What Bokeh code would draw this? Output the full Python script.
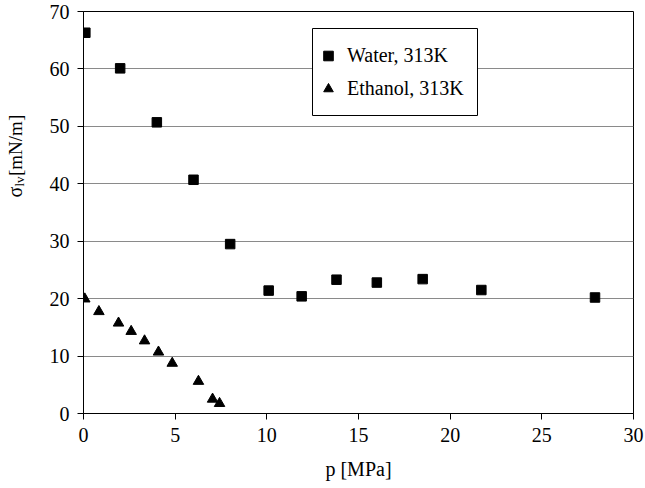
import math

from bokeh.plotting import figure
from bokeh.layouts import row
from bokeh.models import Legend, LegendItem, Label, BoxAnnotation
from bokeh.embed import file_html
from bokeh.resources import INLINE

# Surface tension vs pressure
water_p = [0.1, 2.0, 4.0, 6.0, 8.0, 10.1, 11.9, 13.8, 16.0, 18.5, 21.7, 27.9]
water_sigma = [66.3, 60.1, 50.7, 40.7, 29.5, 21.4, 20.4, 23.3, 22.8, 23.4, 21.5, 20.2]

ethanol_p = [0.07, 0.84, 1.91, 2.6, 3.33, 4.09, 4.84, 6.27, 7.04, 7.42]
ethanol_sigma = [19.95, 17.75, 15.75, 14.3, 12.65, 10.7, 8.75, 5.6, 2.5, 1.75]

x_ticks = [0, 5, 10, 15, 20, 25, 30]
y_ticks = [0, 10, 20, 30, 40, 50, 60, 70]

FONT = "Liberation Serif"
TITLE_W = 30          # width of the strip holding the vertical axis title
HEIGHT = 488

p = figure(
    width=645 - TITLE_W, height=HEIGHT,
    x_range=(0, 30), y_range=(0, 70),
    min_border_left=83 - TITLE_W, min_border_right=12,
    min_border_top=11, min_border_bottom=75,
    output_backend="svg", toolbar_location=None,
)
p.background_fill_color = "white"
p.border_fill_color = "white"
p.outline_line_color = "black"
p.outline_line_width = 1

# horizontal grid lines only
p.xgrid.visible = False
p.ygrid.grid_line_color = "#8a8a8a"
p.ygrid.grid_line_width = 1

for ax in (p.xaxis[0], p.yaxis[0]):
    ax.axis_line_color = "black"
    ax.axis_line_width = 1
    ax.major_tick_line_color = "black"
    ax.major_tick_in = 0
    ax.major_tick_out = 6
    ax.minor_tick_line_color = None
    ax.major_label_text_font = FONT
    ax.major_label_text_font_size = "20px"
    ax.major_label_text_color = "black"
    ax.major_label_standoff = 8

p.xaxis.ticker = x_ticks
p.yaxis.ticker = y_ticks

p.xaxis.axis_label = "p [MPa]"
p.xaxis.axis_label_text_font = FONT
p.xaxis.axis_label_text_font_size = "20px"
p.xaxis.axis_label_text_font_style = "normal"
p.xaxis.axis_label_text_color = "black"
p.xaxis.axis_label_standoff = 13

r_water = p.scatter(water_p, water_sigma, marker="square", size=9.5,
                    fill_color="black", line_color="black")
r_eth = p.scatter(ethanol_p, ethanol_sigma, marker="triangle", size=10.5,
                  fill_color="black", line_color="black")

# legend frame (screen units, measured from the plot frame's bottom-left)
p.add_layout(BoxAnnotation(
    left=229, right=394, bottom=298, top=385,
    left_units="screen", right_units="screen",
    bottom_units="screen", top_units="screen",
    fill_color="white", fill_alpha=1,
    line_color="black", line_width=1, line_alpha=1,
))

legend = Legend(
    items=[
        LegendItem(label="Water, 313K", renderers=[r_water]),
        LegendItem(label="Ethanol, 313K", renderers=[r_eth]),
    ],
    location=(233, 308),
    padding=0, margin=0, spacing=0,
    glyph_width=24, glyph_height=33, label_height=33,
    label_standoff=7,
    label_text_font=FONT,
    label_text_font_size="20px",
    label_text_color="black",
    border_line_color=None,
    background_fill_alpha=0,
)
p.add_layout(legend)

# narrow strip on the left carrying the rotated title  σ_lv [mN/m]
t = figure(
    width=TITLE_W, height=HEIGHT, x_range=(0, 1), y_range=(0, 1),
    min_border=0, x_axis_location=None, y_axis_location=None,
    output_backend="svg", toolbar_location=None,
)
t.outline_line_color = None
t.grid.visible = False
t.background_fill_color = "white"
t.border_fill_color = "white"

title_parts = [
    ("σ", "20px", 272, 14.5),
    ("lv", "13px", 261, 18.5),
    ("[mN/m]", "19px", 250.5, 14.5),
]
for txt, size, sy, sx in title_parts:
    t.add_layout(Label(
        x=sx, y=HEIGHT - sy, x_units="screen", y_units="screen",
        angle=math.pi / 2,
        text=txt, text_font=FONT, text_font_size=size,
        text_color="black", text_align="left", text_baseline="alphabetic",
    ))

layout = row(t, p, spacing=0)
open("out.html", "w").write(file_html(layout, INLINE))
